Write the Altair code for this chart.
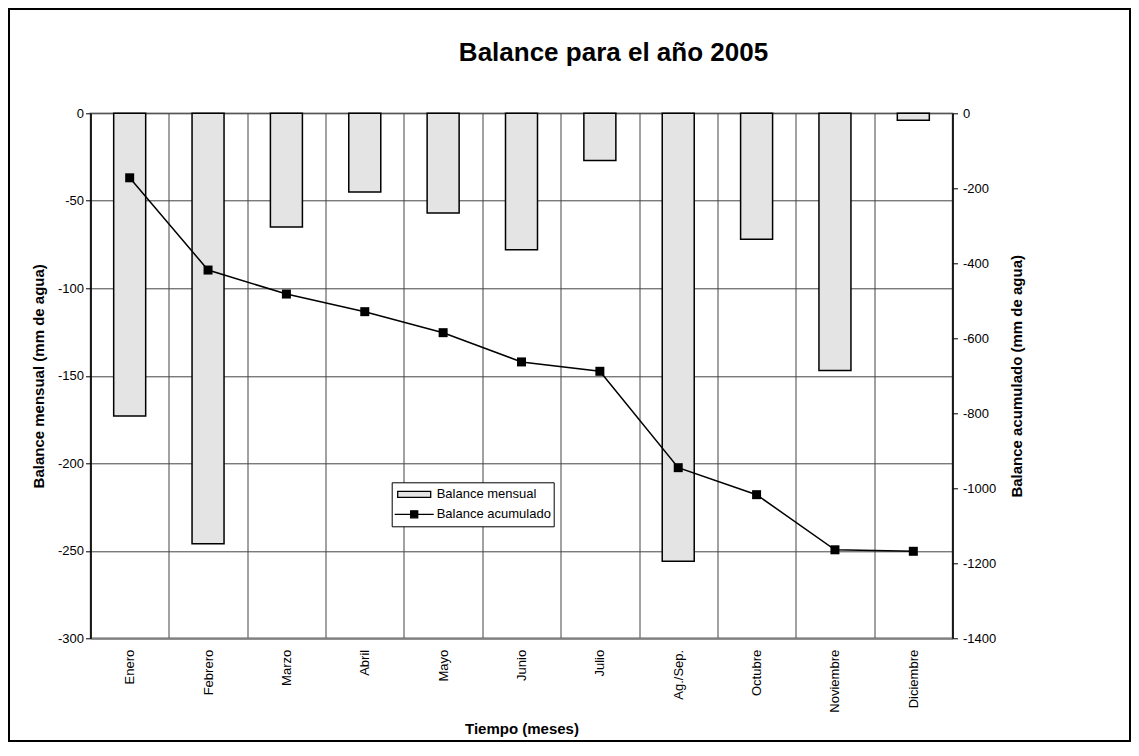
import altair as alt
import pandas as pd

# ---- data ----
meses = ["Enero", "Febrero", "Marzo", "Abril", "Mayo", "Junio", "Julio",
         "Ag./Sep.", "Octubre", "Noviembre", "Diciembre"]
balance_mensual = [-173, -246, -65, -45, -57, -78, -27, -256, -72, -147, -4]
balance_acumulado = [-172, -418, -482, -529, -585, -663, -688, -945, -1017, -1164, -1168]
ticks_izq = [0, -50, -100, -150, -200, -250, -300]
ticks_der = [0, -200, -400, -600, -800, -1000, -1200, -1400]
series = ["Balance mensual", "Balance acumulado"]

df = pd.DataFrame({"mes": meses, "mensual": balance_mensual, "acumulado": balance_acumulado})
df_leg = pd.DataFrame({"serie": series})
df_one = pd.DataFrame({"k": [0]})

FONT = "Liberation Sans"
W, H = 862, 525
PAD_L, PAD_T = 82.5, 105.3
SVG_W, SVG_H = 1123, 734
PAD_R = SVG_W - PAD_L - W
PAD_B = SVG_H - PAD_T - H

BAR_FILL = "#e4e4e4"
GRID = "#444444"

x_enc = alt.X(
    "mes:N", sort=meses,
    scale=alt.Scale(type="band", paddingInner=0, paddingOuter=0),
    axis=alt.Axis(
        title="Tiempo (meses)", labelAngle=270, labelAlign="right", labelBaseline="middle",
        labelPadding=11, ticks=False, grid=True, tickBand="extent",
        gridColor=GRID, gridWidth=1, domainColor="#808080", domainWidth=2,
        titleX=W / 2, titleY=90.5, titleAlign="center", titleBaseline="middle",
    ),
)

frame = alt.Chart(df_one).mark_rect(filled=False, stroke="black", strokeWidth=2).encode(
    x=alt.value(-PAD_L + 1), x2=alt.value(W + PAD_R - 1),
    y=alt.value(-PAD_T + 1), y2=alt.value(H + PAD_B - 1),
)

bars = alt.Chart(df).mark_bar(size=32, fill=BAR_FILL, stroke="black", strokeWidth=1.5).encode(
    x=x_enc,
    y=alt.Y(
        "mensual:Q",
        scale=alt.Scale(domain=[-300, 0], nice=False, zero=False),
        axis=alt.Axis(
            values=ticks_izq, title="Balance mensual (mm de agua)", grid=True,
            gridColor=GRID, gridWidth=1, domainColor="black", domainWidth=1.5,
            tickSize=5, labelPadding=2, labelExpr="'' + datum.value",
            titleAngle=270, titleX=-52, titleY=H / 2, titleAlign="center", titleBaseline="middle",
        ),
    ),
)

y_right = alt.Y(
    "acumulado:Q",
    scale=alt.Scale(domain=[-1400, 0], nice=False, zero=False),
    axis=alt.Axis(
        orient="right", values=ticks_der, title="Balance acumulado (mm de agua)", grid=False,
        domainColor="black", domainWidth=1.5, tickSize=5, labelPadding=5,
        labelExpr="'' + datum.value",
        titleAngle=270, titleX=63.5, titleY=H / 2, titleAlign="center", titleBaseline="middle",
    ),
)

line = alt.Chart(df).mark_line(color="black", strokeWidth=1.5).encode(x=x_enc, y=y_right)
points = alt.Chart(df).mark_point(shape="square", filled=True, size=81, color="black", opacity=1).encode(
    x=x_enc, y=alt.Y("acumulado:Q")
)

path_bar = "M-0.846,-0.154L0.846,-0.154L0.846,0.154L-0.846,0.154Z"
path_line = "M-1,0L1,0M-0.18,-0.18L0.18,-0.18L0.18,0.18L-0.18,0.18Z"

leg_spec = dict(
    title=None, orient="none", legendX=301.2, legendY=369, direction="vertical",
    strokeColor="black", fillColor="white", padding=2, cornerRadius=0,
    symbolSize=1521, symbolStrokeWidth=1.3, symbolOpacity=1,
    clipHeight=20, rowPadding=0, labelFontSize=13, labelFont=FONT, labelColor="black",
    labelOffset=2,
)

legend_layer = alt.Chart(df_leg).mark_point(filled=True, strokeWidth=1.3, opacity=1).encode(
    x=alt.value(-700), y=alt.value(200),
    fill=alt.Fill("serie:N", sort=series,
                  scale=alt.Scale(domain=series, range=[BAR_FILL, "black"]),
                  legend=alt.Legend(**leg_spec)),
    stroke=alt.Stroke("serie:N", sort=series,
                      scale=alt.Scale(domain=series, range=["black", "black"]),
                      legend=alt.Legend(**leg_spec)),
    shape=alt.Shape("serie:N", sort=series,
                    scale=alt.Scale(domain=series, range=[path_bar, path_line]),
                    legend=alt.Legend(**leg_spec)),
)

right = alt.layer(line, points, legend_layer)

chart = alt.layer(frame, bars, right).resolve_scale(y="independent").properties(
    width=W, height=H,
    title=alt.TitleParams(
        "Balance para el año 2005", font=FONT, fontSize=26, fontWeight="bold", color="black",
        anchor="middle", frame="group", dx=92, offset=-78.7, baseline="alphabetic",
    ),
    autosize=alt.AutoSizeParams(type="none"),
    padding={"left": PAD_L, "top": PAD_T, "right": PAD_R, "bottom": PAD_B},
).configure(
    background="white",
).configure_view(
    stroke="#808080", strokeWidth=1.5,
).configure_axis(
    labelFont=FONT, titleFont=FONT, labelFontSize=13, titleFontSize=15,
    labelColor="black", titleColor="black", titleFontWeight="bold", tickColor="black",
)

chart.save("out.html", embed_options={"renderer": "svg", "actions": False})
